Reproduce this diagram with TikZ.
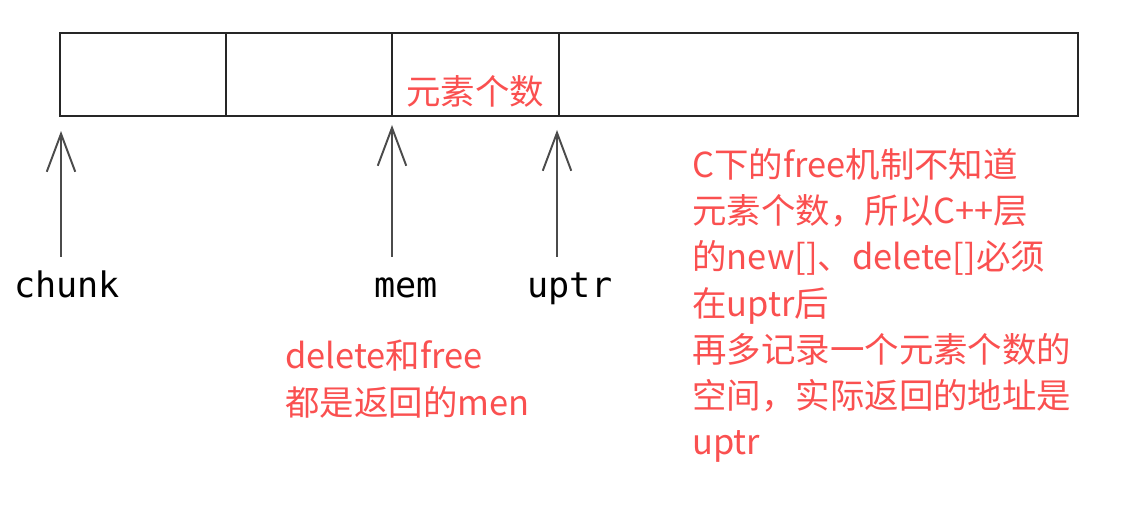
\documentclass[tikz,border=0pt]{standalone}
\usepackage{fontspec}
\newfontfamily\notefont{Noto Sans CJK SC}
\newfontfamily\ptrfont{DejaVu Sans Mono}
\usetikzlibrary{arrows.meta}
\definecolor{notered}{RGB}{250,80,80}
\definecolor{ptrgray}{RGB}{75,75,75}
\tikzset{
  cell/.style={draw=black!85, line width=1.1pt, minimum height=1.66cm, inner sep=0pt, outer sep=0pt, anchor=south west},
  ptr/.style={ptrgray, line width=1.1pt, -{Straight Barb[length=0.76cm,width=0.57cm]}},
  ptrlabel/.style={font=\ptrfont\fontsize{20pt}{24pt}\selectfont, anchor=base, text height=0.6cm, inner sep=0.2cm},
  note/.style={notered, font=\notefont\fontsize{19.6pt}{26.3pt}\selectfont, align=left, inner sep=0pt, anchor=north west}
}
\begin{document}
\begin{tikzpicture}
\useasboundingbox (0,0) rectangle (22.62,10.44);

% memory block
\node[cell, minimum width=3.32cm] (c0) at (1.2,8.12) {};
\node[cell, minimum width=3.32cm] (c1) at (4.52,8.12) {};
\node[cell, minimum width=3.34cm] (c2) at (7.84,8.12) {};
\node[cell, minimum width=10.38cm] (c3) at (11.18,8.12) {};
\node[note, anchor=center] (count) at (9.5,8.62) {元素个数};

% pointers
\coordinate (chunktip) at ([xshift=0.02cm,yshift=-0.3cm]c0.south west);
\coordinate (memtip) at ([yshift=-0.18cm]c2.south west);
\coordinate (uptrtip) at ([xshift=-0.04cm,yshift=-0.28cm]c3.south west);

\node[ptrlabel] (chunk) at (1.34,4.5) {chunk};
\node[ptrlabel] (mem) at (8.12,4.5) {mem};
\node[ptrlabel] (uptr) at (11.4,4.5) {uptr};

\draw[ptr] (chunk.north -| chunktip) -- (chunktip);
\draw[ptr] (mem.north -| memtip) -- (memtip);
\draw[ptr] (uptr.north -| uptrtip) -- (uptrtip);

% notes
\node[note] (freenote) at (5.70,3.64) {delete和free\\都是返回的men};
\node[note] (cnote) at (13.84,7.48) {C下的free机制不知道\\元素个数，所以C++层\\的new[]、delete[]必须\\在uptr后\\再多记录一个元素个数的\\空间，实际返回的地址是\\uptr};

\end{tikzpicture}
\end{document}
